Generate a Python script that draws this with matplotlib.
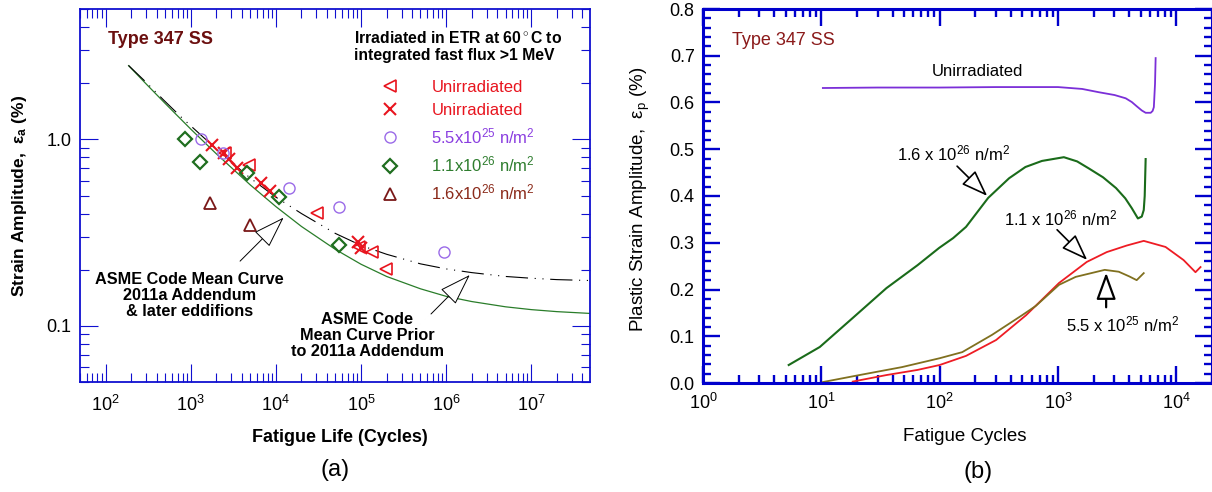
import matplotlib
matplotlib.use('Agg')
import matplotlib.pyplot as plt
from matplotlib.lines import Line2D
from matplotlib.ticker import LogLocator, FormatStrFormatter, NullFormatter, MultipleLocator

plt.rcParams['font.family'] = ['Liberation Sans', 'DejaVu Sans']
plt.rcParams['mathtext.fontset'] = 'custom'
plt.rcParams['mathtext.rm'] = 'Liberation Sans'
plt.rcParams['mathtext.it'] = 'Liberation Sans:italic'
plt.rcParams['mathtext.bf'] = 'Liberation Sans:bold'

# ---- (a) fatigue data, Type 347 SS ----
unirr_tri_N = [2540, 4830, 30200, 96000, 133000, 199000]
unirr_tri_e = [0.85, 0.726, 0.402, 0.264, 0.249, 0.202]
unirr_x_N = [1780, 2466, 2820, 3500, 6680, 8510, 91000, 101000]
unirr_x_e = [0.93, 0.85, 0.782, 0.70, 0.582, 0.527, 0.281, 0.262]
f55_N = [1328, 2400, 14200, 54600, 950000]
f55_e = [1.0, 0.85, 0.547, 0.433, 0.249]
f11_N = [863, 1291, 4580, 10840, 54600]
f11_e = [1.0, 0.753, 0.658, 0.49, 0.271]
f16_N = [1690, 4970]
f16_e = [0.455, 0.347]

# ASME mean curve, 2011a addendum (green) and prior (dash-dot)
new_N = [186, 300, 500, 1000, 2000, 5000, 1e4, 2e4, 5e4, 1e5, 2e5, 5e5, 1e6, 2e6, 5e6, 1e7, 2e7, 4.9e7]
new_e = [2.485, 1.98, 1.559, 1.135, 0.836, 0.570, 0.436, 0.341, 0.257, 0.214, 0.184, 0.158, 0.144, 0.135, 0.1265, 0.1222, 0.1192, 0.1166]
old_N = [186, 300, 477, 795, 1300, 2500, 5000, 1e4, 2e4, 5e4, 1e5, 2e5, 5e5, 1e6, 2e6, 5e6, 1e7, 2e7, 4.9e7]
old_e = [2.49, 2.02, 1.63, 1.30, 1.06, 0.81, 0.62, 0.49, 0.40, 0.313, 0.27, 0.242, 0.215, 0.202, 0.193, 0.184, 0.180, 0.177, 0.175]

# ---- (b) plastic strain amplitude vs cycles ----
unirr_N = [10.3, 30, 100, 300, 1000, 1600, 2210, 3000, 3730, 4200, 4620, 5100, 5500, 6070, 6300, 6450, 6600, 6680]
unirr_ep = [0.631, 0.632, 0.632, 0.633, 0.633, 0.629, 0.622, 0.616, 0.609, 0.601, 0.592, 0.583, 0.578, 0.578, 0.582, 0.59, 0.64, 0.695]
g16_N = [5.3, 9.7, 18.4, 35.5, 65, 99, 130, 167, 257, 386, 530, 731, 1120, 1450, 1820, 2400, 3090, 3700, 4200, 4730, 5100, 5300, 5400, 5500]
g16_ep = [0.0385, 0.077, 0.139, 0.203, 0.252, 0.289, 0.310, 0.334, 0.396, 0.438, 0.462, 0.475, 0.483, 0.474, 0.459, 0.440, 0.417, 0.395, 0.374, 0.352, 0.356, 0.37, 0.40, 0.479]
r11_N = [18.4, 35.5, 65, 100, 167, 300, 537, 1020, 1750, 2580, 3800, 5300, 8100, 11500, 14500, 16000]
r11_ep = [0.003, 0.017, 0.028, 0.0385, 0.058, 0.092, 0.145, 0.214, 0.259, 0.28, 0.294, 0.304, 0.291, 0.263, 0.237, 0.248]
o55_N = [10.3, 21, 48, 100, 155, 277, 497, 650, 1020, 1410, 2480, 3260, 4000, 4620, 5300]
o55_ep = [0.002, 0.017, 0.034, 0.053, 0.066, 0.103, 0.145, 0.165, 0.21, 0.227, 0.242, 0.238, 0.228, 0.22, 0.235]

blue = '#1010d0'
red = '#e8141e'
purple = '#9a6ae8'
green = '#1f6e1f'
darkred = '#7a1818'

fig = plt.figure(figsize=(12.12, 4.92), dpi=100)

# ================= panel (a) =================
ax = fig.add_axes([80/1212, 1-382/492, 510/1212, 373/492])
ax.set_xscale('log')
ax.set_yscale('log')
ax.set_xlim(50, 4.9e7)
ax.set_ylim(0.05, 5)

ax.plot(new_N, new_e, color='#2a7d2a', lw=0.9)
ax.plot(old_N, old_e, color='black', lw=0.8, linestyle=(0, (20, 6, 1, 6, 1, 6)))

ms = 8
ax.plot(unirr_tri_N, unirr_tri_e, '<', ls='none', mfc='none', mec=red, mew=1.2, ms=ms)
ax.plot(unirr_x_N, unirr_x_e, 'x', ls='none', color=red, mew=1.5, ms=ms+1)
ax.plot(f55_N, f55_e, 'o', ls='none', mfc='none', mec=purple, mew=1.0, ms=ms)
ax.plot(f11_N, f11_e, 'D', ls='none', mfc='none', mec=green, mew=1.6, ms=7)
ax.plot(f16_N, f16_e, '^', ls='none', mfc='none', mec=darkred, mew=1.3, ms=ms)

ax.xaxis.set_major_locator(LogLocator(base=10, numticks=20))
ax.xaxis.set_minor_locator(LogLocator(base=10, subs=range(2, 10), numticks=20))
ax.yaxis.set_major_locator(LogLocator(base=10, numticks=20))
ax.yaxis.set_minor_locator(LogLocator(base=10, subs=range(2, 10), numticks=20))
ax.yaxis.set_major_formatter(FormatStrFormatter('%.1f'))
ax.yaxis.set_minor_formatter(NullFormatter())
ax.xaxis.set_minor_formatter(NullFormatter())
ax.tick_params(which='both', direction='in', top=True, right=True, color=blue)
ax.tick_params(which='major', length=13, width=0.8, labelsize=13)
ax.tick_params(which='minor', length=6.5, width=0.8)
ax.tick_params(axis='x', which='major', pad=9)
ax.tick_params(axis='y', which='major', pad=6)
for s in ax.spines.values():
    s.set_color(blue)
    s.set_linewidth(1.3)

ax.set_ylabel('Strain Amplitude,  ε$_\\mathbf{a}$ (%)', fontsize=12.5, fontweight='bold')
ax.set_xlabel('Fatigue Life (Cycles)', fontsize=13, fontweight='bold')
ax.yaxis.set_label_coords(-0.1, 0.5)
ax.xaxis.set_label_coords(0.51, -0.125)

ax.text(0.055, 0.917, 'Type 347 SS', transform=ax.transAxes, color='#6b0f0f',
        fontsize=13, fontweight='bold', va='center', ha='left')

handles = [
    Line2D([], [], marker='<', ls='none', mfc='none', mec=red, mew=1.2, ms=ms),
    Line2D([], [], marker='x', ls='none', color=red, mew=1.5, ms=ms),
    Line2D([], [], marker='o', ls='none', mfc='none', mec=purple, mew=1.0, ms=ms),
    Line2D([], [], marker='D', ls='none', mfc='none', mec=green, mew=1.6, ms=7),
    Line2D([], [], marker='^', ls='none', mfc='none', mec=darkred, mew=1.3, ms=ms),
]
labels = ['Unirradiated', 'Unirradiated', '5.5x10$^{25}$ n/m$^2$',
          '1.1x10$^{26}$ n/m$^2$', '1.6x10$^{26}$ n/m$^2$']
leg = ax.legend(handles, labels, loc='upper right', bbox_to_anchor=(0.975, 0.985),
                frameon=False, fontsize=12, handlelength=1.0, handletextpad=2.0,
                labelspacing=0.5,
                labelcolor=[red, red, '#8a3ee0', '#2e7d2e', '#8b2a1a'],
                title='Irradiated in ETR at 60$^\\circ$C to\nintegrated fast flux >1 MeV',
                title_fontproperties={'weight': 'bold', 'size': 11.3})
leg._legend_box.sep = 12

ax.text(960, 0.145, 'ASME Code Mean Curve\n2011a Addendum\n& later eddifions',
        ha='center', va='center', fontsize=11.7, fontweight='bold', linespacing=1.1)
ax.annotate('', xy=(1.3e4, 0.39), xytext=(3600, 0.217),
            arrowprops=dict(arrowstyle='-|>,head_length=1.2,head_width=0.4',
                            fc='white', ec='black', lw=0.7, mutation_scale=17))
ax.text(1.19e5, 0.0885, 'ASME Code\nMean Curve Prior\nto 2011a Addendum',
        ha='center', va='center', fontsize=11.7, fontweight='bold', linespacing=1.1)
ax.annotate('', xy=(2e6, 0.192), xytext=(6.3e5, 0.113),
            arrowprops=dict(arrowstyle='-|>,head_length=1.2,head_width=0.4',
                            fc='white', ec='black', lw=0.7, mutation_scale=17))

# ================= panel (b) =================
bx = fig.add_axes([703/1212, 1-383/492, 509/1212, 374/492])
bx.set_xscale('log')
bx.set_xlim(1, 2e4)
bx.set_ylim(0, 0.8)

bx.plot(unirr_N, unirr_ep, color='#7b2fd8', lw=1.3)
bx.plot(g16_N, g16_ep, color='#1a6b1a', lw=1.5)
bx.plot(r11_N, r11_ep, color='#ee1c24', lw=1.3)
bx.plot(o55_N, o55_ep, color='#80701f', lw=1.3)

bx.xaxis.set_major_locator(LogLocator(base=10, numticks=20))
bx.xaxis.set_minor_locator(LogLocator(base=10, subs=range(2, 10), numticks=20))
bx.xaxis.set_minor_formatter(NullFormatter())
bx.yaxis.set_major_locator(MultipleLocator(0.1))
bx.yaxis.set_minor_locator(MultipleLocator(0.02))
bx.yaxis.set_major_formatter(FormatStrFormatter('%.1f'))
bx.tick_params(which='both', direction='in', top=True, right=True, color='#0000cc')
bx.tick_params(which='major', length=12.5, width=1.7, labelsize=13)
bx.tick_params(which='minor', length=6, width=1.7)
bx.tick_params(axis='x', which='major', pad=7)
bx.tick_params(axis='y', which='major', pad=6)
for s in bx.spines.values():
    s.set_color('#0000cc')
    s.set_linewidth(2.2)

bx.set_ylabel('Plastic Strain Amplitude,  ε$_\\mathrm{p}$ (%)', fontsize=13.5)
bx.set_xlabel('Fatigue Cycles', fontsize=13.5)
bx.yaxis.set_label_coords(-0.1, 0.49)
bx.xaxis.set_label_coords(0.515, -0.12)

bx.text(0.057, 0.917, 'Type 347 SS', transform=bx.transAxes, color='#8b1a1a',
        fontsize=13, va='center', ha='left')
bx.text(207, 0.667, 'Unirradiated', ha='center', va='center', fontsize=12)
bx.text(130, 0.492, '1.6 x 10$^{26}$ n/m$^2$', ha='center', va='center', fontsize=12)
bx.annotate('', xy=(262, 0.396), xytext=(135, 0.468),
            arrowprops=dict(arrowstyle='-|>,head_length=1.1,head_width=0.4',
                            fc='white', ec='black', lw=1.2, mutation_scale=15))
bx.text(1042, 0.353, '1.1 x 10$^{26}$ n/m$^2$', ha='center', va='center', fontsize=12)
bx.annotate('', xy=(1833, 0.259), xytext=(945, 0.332),
            arrowprops=dict(arrowstyle='-|>,head_length=1.1,head_width=0.4',
                            fc='white', ec='black', lw=1.2, mutation_scale=15))
bx.text(3480, 0.126, '5.5 x 10$^{25}$ n/m$^2$', ha='center', va='center', fontsize=12)
bx.annotate('', xy=(2550, 0.242), xytext=(2550, 0.156),
            arrowprops=dict(arrowstyle='-|>,head_length=1.1,head_width=0.4',
                            fc='white', ec='black', lw=1.6, mutation_scale=15))

fig.text(335/1212, 1-470/492, '(a)', ha='center', va='center', fontsize=17)
fig.text(978/1212, 1-472/492, '(b)', ha='center', va='center', fontsize=17)

fig.savefig('out.png', dpi=100)
